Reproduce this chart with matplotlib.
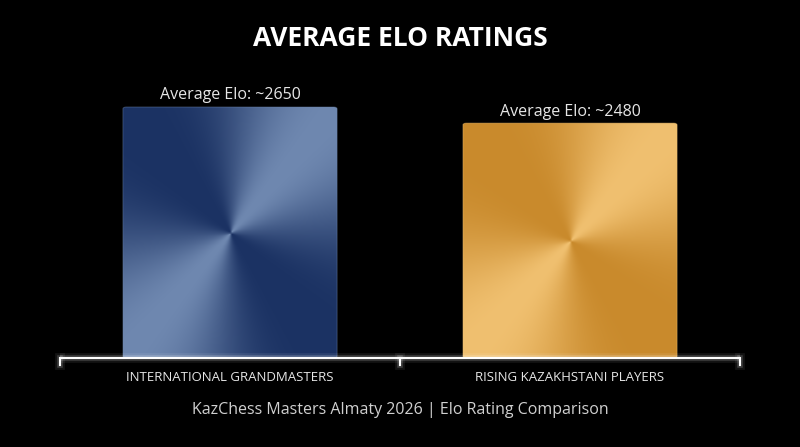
import numpy as np
import matplotlib
matplotlib.use("Agg")
import matplotlib.pyplot as plt
from matplotlib.patches import FancyBboxPatch
from matplotlib.colors import to_rgb

categories = ["INTERNATIONAL GRANDMASTERS", "RISING KAZAKHSTANI PLAYERS"]
values = [2650, 2480]
value_labels = ["Average Elo: ~2650", "Average Elo: ~2480"]
dark_cols = ["#1b3263", "#c98a2c"]
light_cols = ["#6f88b0", "#f0c070"]

fig = plt.figure(figsize=(8, 4.47), dpi=100, facecolor="black")
ax = fig.add_axes([60/800, (447-358)/447, 680/800, (358-60)/447])
ax.set_facecolor("black")
ax.set_xlim(-0.5, 1.5)
top = values[0] * (358-60) / 251
ax.set_ylim(0, top)
for s in ax.spines.values():
    s.set_visible(False)
ax.set_xticks([]); ax.set_yticks([])

w = 0.63
for i, v in enumerate(values):
    x0 = i - w/2
    patch = FancyBboxPatch((x0, 0), w, v, boxstyle="round,pad=0,rounding_size=0.01",
                           mutation_aspect=top/2*1.2, facecolor="none", edgecolor="none")
    ax.add_patch(patch)
    ny, nx = 200, 200
    yy, xx = np.mgrid[0:ny, 0:nx]
    ang = np.arctan2((ny/2 - yy), (xx - nx/2))
    t = 0.5 + 0.5*np.cos(2*(ang - np.pi/4))
    t = t**1.5
    d = np.array(to_rgb(dark_cols[i])); l = np.array(to_rgb(light_cols[i]))
    img = d + (l - d)*t[..., None]
    im = ax.imshow(img, extent=(x0, x0+w, 0, v), aspect="auto", zorder=2)
    im.set_clip_path(patch)
    ax.add_patch(FancyBboxPatch((x0, 0), w, v, boxstyle="round,pad=0,rounding_size=0.01",
                 mutation_aspect=top/2*1.2, facecolor="none", edgecolor=light_cols[i],
                 lw=0.6, alpha=0.5, zorder=3))
    ax.text(i, v + top*0.012, value_labels[i], ha="center", va="bottom",
            color="#e6e6e6", fontsize=11.5, family="Open Sans")
    ax.text(i, -top*0.065, categories[i], ha="center", va="center",
            color="#e6e6e6", fontsize=9.5, family="Open Sans", clip_on=False)

# glowing baseline
for lw, a in [(7, 0.08), (4, 0.18), (1.5, 1.0)]:
    ax.plot([-0.5, 1.5], [0, 0], color="white", lw=lw, alpha=a, clip_on=False, zorder=4,
            solid_capstyle="butt")
    for xt in [-0.5, 0.5, 1.5]:
        ax.plot([xt, xt], [0, -top*0.025], color="white", lw=lw, alpha=a, clip_on=False, zorder=4)

fig.text(0.5, 1-38/447, "AVERAGE ELO RATINGS", ha="center", va="center", color="white",
         fontsize=19, fontweight="bold", family="Open Sans")
fig.text(0.5, 1-410/447, "KazChess Masters Almaty 2026 | Elo Rating Comparison", ha="center",
         va="center", color="#d0d0d0", fontsize=11.5, family="Open Sans")
fig.savefig("out.png", facecolor="black")
